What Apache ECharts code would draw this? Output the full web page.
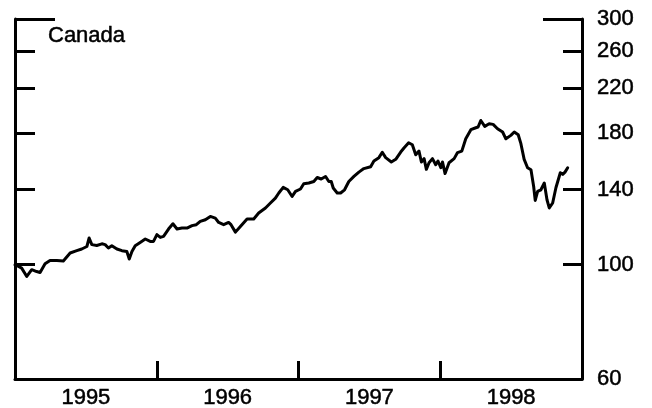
<!DOCTYPE html>
<html>
<head>
<meta charset="utf-8">
<script src="https://cdn.jsdelivr.net/npm/echarts@6/dist/echarts.min.js"></script>
<style>
  html, body { margin: 0; padding: 0; background: #fff; }
  #chart { width: 652px; height: 408px; }
</style>
</head>
<body>
<div id="chart"></div>
<script>
// Canadian stock index, log scale (start of 1995 = 100)
const years = [
  1995.000, 1995.016, 1995.047, 1995.083, 1995.118, 1995.153, 1995.177, 1995.212,
  1995.247, 1995.295, 1995.341, 1995.353, 1995.389, 1995.436, 1995.471, 1995.507,
  1995.523, 1995.542, 1995.577, 1995.613, 1995.636, 1995.659, 1995.683, 1995.719,
  1995.754, 1995.789, 1995.806, 1995.825, 1995.848, 1995.883, 1995.919, 1995.954,
  1995.977, 1996.001, 1996.025, 1996.048, 1996.083, 1996.114, 1996.143, 1996.178,
  1996.213, 1996.249, 1996.279, 1996.307, 1996.343, 1996.378, 1996.413, 1996.437,
  1996.472, 1996.507, 1996.524, 1996.555, 1996.590, 1996.637, 1996.684, 1996.719,
  1996.767, 1996.802, 1996.837, 1996.861, 1996.892, 1996.924, 1996.955, 1996.979,
  1997.014, 1997.037, 1997.073, 1997.108, 1997.132, 1997.160, 1997.191, 1997.214,
  1997.231, 1997.245, 1997.273, 1997.297, 1997.325, 1997.355, 1997.391, 1997.426,
  1997.461, 1997.509, 1997.532, 1997.567, 1997.591, 1997.615, 1997.655, 1997.686,
  1997.721, 1997.744, 1997.777, 1997.803, 1997.827, 1997.850, 1997.867, 1997.886,
  1997.902, 1997.921, 1997.945, 1997.968, 1997.984, 1998.004, 1998.016, 1998.034,
  1998.062, 1998.098, 1998.122, 1998.152, 1998.180, 1998.216, 1998.251, 1998.267,
  1998.286, 1998.314, 1998.345, 1998.373, 1998.404, 1998.440, 1998.463, 1998.498,
  1998.522, 1998.550, 1998.569, 1998.592, 1998.616, 1998.640, 1998.659, 1998.670,
  1998.687, 1998.710, 1998.734, 1998.753, 1998.769, 1998.793, 1998.816, 1998.847,
  1998.864, 1998.880, 1998.899
];
const index = [
  100.0, 99.6, 98.5, 94.9, 97.8, 97.0, 96.6, 100.4,
  101.9, 101.9, 101.7, 101.9, 105.4, 106.5, 107.3, 108.5,
  112.7, 109.4, 109.0, 109.8, 109.4, 107.8, 108.9, 107.3,
  106.5, 106.1, 102.6, 106.1, 108.9, 110.5, 112.2, 111.0,
  111.0, 114.4, 113.0, 113.5, 117.3, 120.1, 117.3, 117.8,
  117.8, 119.1, 119.6, 121.4, 122.3, 124.1, 123.2, 120.8,
  119.6, 120.8, 119.6, 115.7, 118.7, 122.7, 122.7, 126.0,
  128.9, 131.8, 134.7, 137.8, 141.3, 139.8, 135.7, 138.8,
  140.3, 143.6, 144.1, 145.1, 147.7, 146.7, 148.4, 145.1,
  145.1, 140.9, 137.8, 137.8, 139.8, 145.1, 148.4, 151.3,
  153.7, 155.0, 159.0, 161.4, 165.3, 161.4, 158.3, 160.2,
  165.5, 168.5, 172.5, 171.0, 163.5, 166.2, 158.3, 160.7,
  153.2, 157.8, 160.7, 156.4, 159.0, 154.3, 158.3, 150.3,
  157.8, 160.7, 165.1, 166.2, 175.6, 182.9, 184.5, 185.1,
  190.6, 185.6, 187.8, 187.3, 183.7, 181.0, 175.6, 178.3,
  181.0, 178.8, 171.8, 160.2, 154.3, 152.9, 141.9, 133.3,
  138.8, 139.8, 144.1, 133.7, 128.9, 131.8, 141.1, 150.9,
  149.8, 151.3, 154.3
];
const yTicks = [60, 100, 140, 180, 220, 260, 300];
const yearTicks = [1996, 1997, 1998];
const yearLabels = [1995.5, 1996.5, 1997.5, 1998.5];

const FONT = '"Liberation Sans", Arial, Helvetica, sans-serif';
const INK = '#000';

// slightly heavier strokes on glyphs, like offset-printed type
const textInk = {
  fontFamily: FONT,
  fontSize: 22,
  color: INK,
  textBorderColor: INK,
  textBorderWidth: 0.5
};

const chart = echarts.init(document.getElementById('chart'), null, { renderer: 'canvas' });

// shared pieces for the log-scaled value axes
function logAxis(position, opts) {
  return Object.assign({
    type: 'log',
    logBase: 10,
    position: position,
    min: 60,
    max: 300,
    splitLine: { show: false },
    minorTick: { show: false },
    axisLine: { show: false },
    axisTick: { show: false },
    axisLabel: { show: false }
  }, opts);
}

chart.setOption({
  animation: false,
  backgroundColor: '#fff',
  title: {
    text: 'Canada',
    left: 48,
    top: 25,
    padding: 0,
    textStyle: Object.assign({ fontWeight: 'normal' }, textInk)
  },
  grid: {
    left: 15,
    right: 70,
    top: 19,
    bottom: 29,
    containLabel: false,
    outerBoundsMode: 'none'
  },
  xAxis: {
    type: 'value',
    min: 1995,
    max: 1999,
    splitLine: { show: false },
    axisLine: { show: true, lineStyle: { color: INK, width: 3 } },
    axisTick: {
      show: true,
      inside: true,
      length: 18,
      customValues: yearTicks,
      lineStyle: { color: INK, width: 3 }
    },
    axisLabel: Object.assign({
      show: true,
      customValues: yearLabels,
      formatter: v => String(Math.floor(v)),
      margin: 8
    }, textInk)
  },
  yAxis: [
    // right: labelled scale
    logAxis('right', {
      axisLine: { show: true, onZero: false, lineStyle: { color: INK, width: 3 } },
      axisTick: {
        show: true, inside: true, length: 19,
        customValues: yTicks.slice(0, -1),
        lineStyle: { color: INK, width: 3 }
      },
      axisLabel: Object.assign({
        show: true, customValues: yTicks, margin: 15
      }, textInk)
    }),
    // left: mirrored ticks, no labels
    logAxis('left', {
      axisLine: { show: true, onZero: false, lineStyle: { color: INK, width: 3 } },
      axisTick: {
        show: true, inside: true, length: 20,
        customValues: yTicks.slice(0, -1),
        lineStyle: { color: INK, width: 3 }
      }
    }),
    // longer top ticks on both sides
    logAxis('right', {
      axisTick: {
        show: true, inside: true, length: 39,
        customValues: [300],
        lineStyle: { color: INK, width: 3 }
      }
    }),
    logAxis('left', {
      axisTick: {
        show: true, inside: true, length: 40,
        customValues: [300],
        lineStyle: { color: INK, width: 3 }
      }
    })
  ],
  series: [{
    type: 'line',
    yAxisIndex: 0,
    data: years.map((t, i) => [t, index[i]]),
    showSymbol: false,
    symbol: 'none',
    lineStyle: { color: INK, width: 3, join: 'round', cap: 'round' },
    silent: true
  }]
});
</script>
</body>
</html>
